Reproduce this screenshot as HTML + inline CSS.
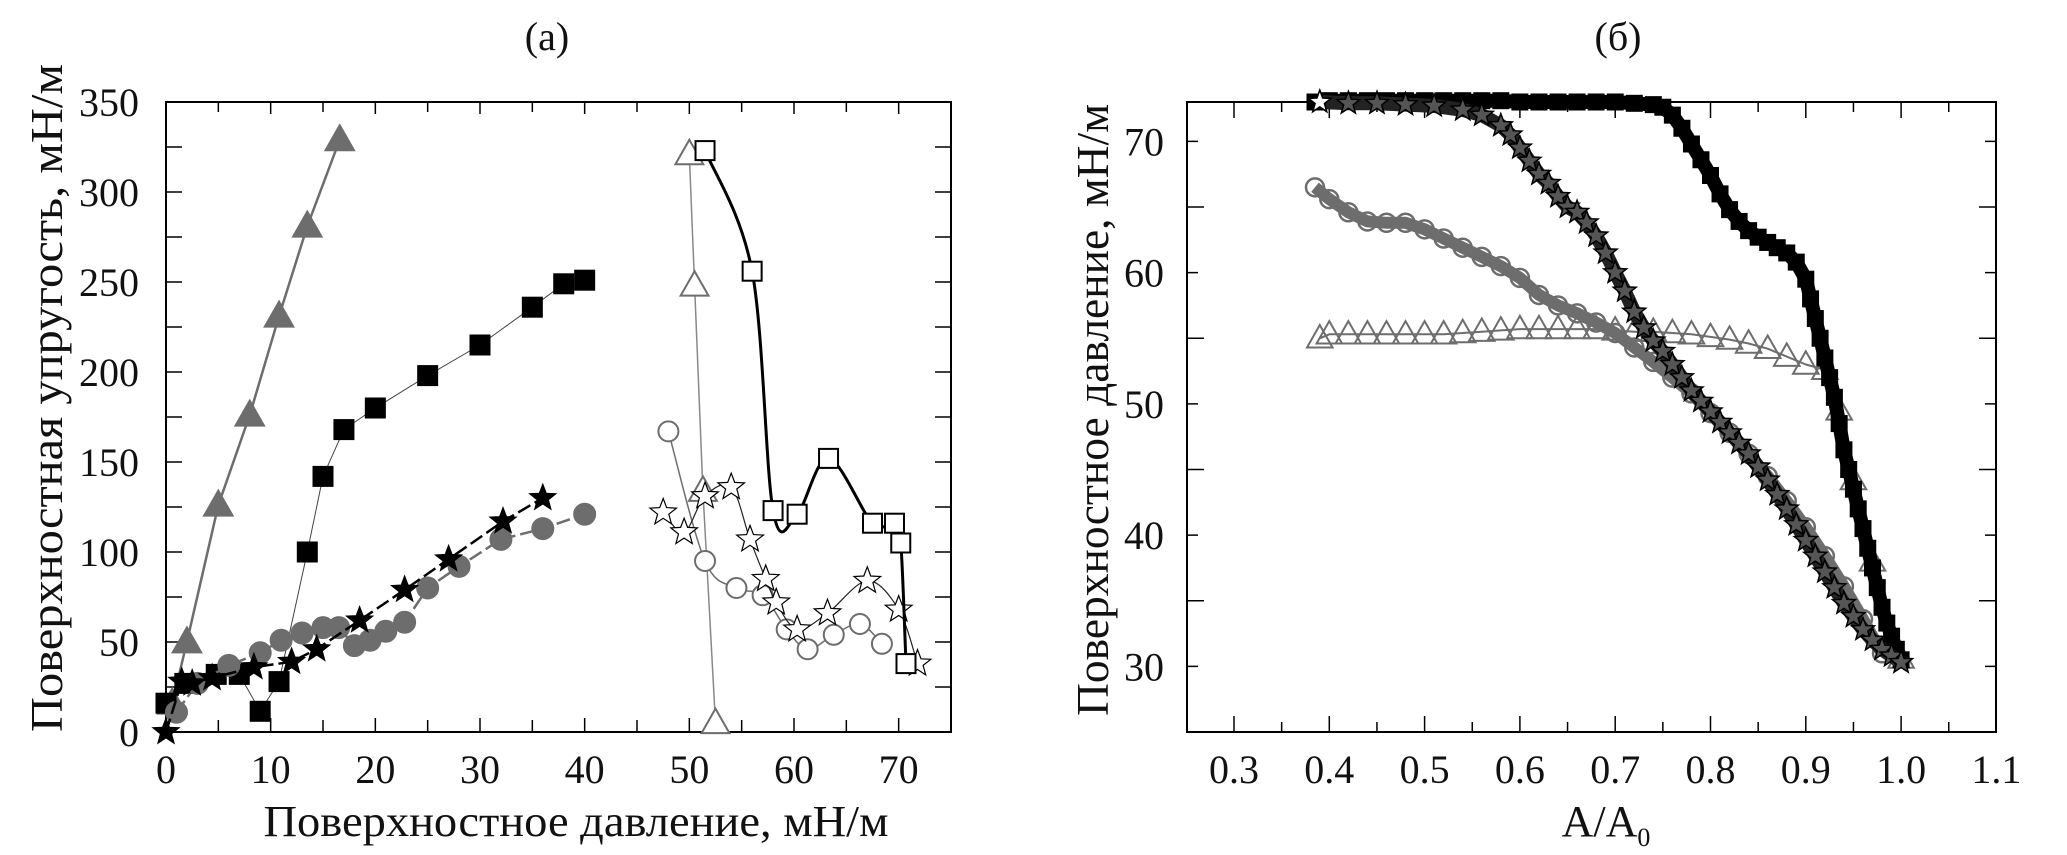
<!DOCTYPE html>
<html><head><meta charset="utf-8"><style>
html,body{margin:0;padding:0;background:#fff;}
svg{display:block;}
svg text{font-family:"Liberation Serif","Times New Roman","DejaVu Serif",serif;}
</style></head><body>
<svg id="fig" width="2067" height="855" viewBox="0 0 2067 855" xmlns="http://www.w3.org/2000/svg" font-family="Liberation Serif, serif">
<g id="pa"></g>
<g id="pb"></g>
</svg>
<script>
// ---------- Panel (a) data ----------
const aGrayTriX=[0.6,2,5,8,10.8,13.5,16.6];
const aGrayTriY=[16,50,126,176,231,281,329];
const aSqX=[0,1.8,4.8,7,9,10.8,13.5,15,17,20,25,30,35,38,40];
const aSqY=[16,27,32,32,11.5,28,100,142,168,180,198,215,236,249,251];
const aStarX=[0,1.5,2.5,4.4,8.4,12,14.4,18.5,22.8,27,32.2,36];
const aStarY=[0,28,27,30,36,39,46,62,79,96,117,130];
const aCircX=[1,3,6,9,11,13,15,16.5,18,19.5,21,22.8,25,28,32,36,40];
const aCircY=[11,27,37,44,51,55,58,58,48,51,56,61,80,92,107,113,121];
const aOTriX=[50,50.5,51.3,52.5];
const aOTriY=[321,248,134,5];
const aOSqX=[51.5,56,58,60.3,63.3,67.5,69.6,70.2,70.7];
const aOSqY=[323,256,123,121,152,116,116,105,38];
const aOStarX=[47.5,49.5,51.5,54,55.8,57.3,58.3,60.3,63.2,67,70,71.8];
const aOStarY=[122,111,131,136,107,85,72,57,66,84,68,38];
const aOCircX=[48,51.5,54.5,57,59.3,61.3,63.8,66.3,68.4];
const aOCircY=[167,95,80,76,57,46,54,60,49];
const aXTicks=[0,10,20,30,40,50,60,70];
const aYTicks=[0,50,100,150,200,250,300,350];

// ---------- Panel (b) data ----------
const bSqX=[0.385,0.40,0.42,0.44,0.46,0.48,0.50,0.52,0.54,0.56,0.58,0.60,0.62,0.64,0.66,0.68,0.70,0.72,0.74,0.75,0.76,0.77,0.78,0.79,0.80,0.81,0.82,0.83,0.84,0.85,0.86,0.87,0.88,0.89,0.90,0.905,0.91,0.915,0.92,0.925,0.93,0.935,0.94,0.945,0.95,0.955,0.96,0.965,0.97,0.975,0.98,0.985,0.99,0.995,1.0];
const bSqY=[73,73.1,73.1,73.1,73.1,73.1,73.1,73.1,73.1,73.1,73.1,73.0,73.0,73.0,73.0,73.0,73.0,72.9,72.8,72.6,72.0,71.0,69.8,68.6,67.4,66.0,64.8,63.9,63.2,62.7,62.3,61.9,61.5,60.8,59.5,58.0,56.5,55.0,53.5,52.0,50.5,48.5,46.5,45.0,43.5,42.0,40.5,39.0,37.5,36.0,34.5,33.3,32.3,31.3,30.5];
const bStarX=[0.39,0.42,0.45,0.48,0.51,0.54,0.56,0.58,0.59,0.60,0.61,0.62,0.63,0.64,0.65,0.66,0.67,0.68,0.69,0.70,0.71,0.72,0.73,0.74,0.75,0.76,0.77,0.78,0.79,0.80,0.81,0.82,0.83,0.84,0.85,0.86,0.87,0.88,0.89,0.90,0.91,0.92,0.93,0.94,0.95,0.96,0.97,0.98,0.99,1.0];
const bStarY=[73,72.9,72.9,72.8,72.7,72.4,72.0,71.2,70.5,69.5,68.5,67.5,66.8,65.8,65.0,64.6,63.8,62.8,61.5,60.0,58.6,57.0,55.8,54.8,54.0,53.0,52.0,51.0,50.2,49.4,48.6,47.8,47.0,46.2,45.2,44.2,43.1,42.0,40.8,39.6,38.4,37.2,36.0,34.8,33.8,32.8,32.0,31.3,30.8,30.3];
const bCircX=[0.385,0.40,0.42,0.44,0.46,0.48,0.50,0.52,0.54,0.56,0.58,0.60,0.62,0.64,0.66,0.68,0.70,0.72,0.74,0.76,0.78,0.80,0.82,0.84,0.86,0.88,0.90,0.92,0.94,0.96,0.98];
const bCircY=[66.5,65.6,64.6,63.9,63.8,63.8,63.3,62.6,61.9,61.2,60.5,59.6,58.3,57.5,56.9,56.2,55.4,54.3,53.2,52.0,50.8,49.3,47.8,46.2,44.5,42.6,40.6,38.4,36.1,33.6,31.0];
const bTriX=[0.39,0.40,0.42,0.44,0.46,0.48,0.50,0.52,0.54,0.56,0.58,0.60,0.62,0.64,0.66,0.68,0.70,0.72,0.74,0.76,0.78,0.80,0.82,0.84,0.86,0.88,0.90,0.92,0.935,0.95,0.97,0.99,1.0];
const bTriY=[55,55.3,55.3,55.3,55.3,55.3,55.3,55.3,55.4,55.5,55.6,55.7,55.7,55.7,55.7,55.7,55.6,55.5,55.5,55.4,55.3,55.1,54.9,54.6,54.2,53.6,53.0,52.6,49.5,44.2,38.0,31.8,30.6];
const bXTicks=[0.3,0.4,0.5,0.6,0.7,0.8,0.9,1.0,1.1];
const bXTickLabels=["0.3","0.4","0.5","0.6","0.7","0.8","0.9","1.0","1.1"];
const bYTicks=[30,40,50,60,70];

const NS="http://www.w3.org/2000/svg";
const GRAY="#6d6d6d";
function el(parent,tag,attrs){const e=document.createElementNS(NS,tag);for(const k in attrs)e.setAttribute(k,attrs[k]);parent.appendChild(e);return e;}
function linPath(xs,ys,sx,sy){return xs.map((x,i)=>(i?'L':'M')+sx(x).toFixed(1)+' '+sy(ys[i]).toFixed(1)).join(' ');}
function smoothPath(xs,ys,sx,sy){
  const p=xs.map((x,i)=>[sx(x),sy(ys[i])]);
  let d='M'+p[0][0]+' '+p[0][1];
  for(let i=0;i<p.length-1;i++){
    const p0=p[i-1]||p[i],p1=p[i],p2=p[i+1],p3=p[i+2]||p2;
    const c1=[p1[0]+(p2[0]-p0[0])/6,p1[1]+(p2[1]-p0[1])/6];
    const c2=[p2[0]-(p3[0]-p1[0])/6,p2[1]-(p3[1]-p1[1])/6];
    d+=` C${c1[0].toFixed(1)} ${c1[1].toFixed(1)} ${c2[0].toFixed(1)} ${c2[1].toFixed(1)} ${p2[0].toFixed(1)} ${p2[1].toFixed(1)}`;
  }
  return d;
}
function starPts(cx,cy,r){let s='';for(let i=0;i<10;i++){const a=-Math.PI/2+i*Math.PI/5;const rr=i%2?r*0.42:r;s+=(cx+rr*Math.cos(a)).toFixed(1)+','+(cy+rr*Math.sin(a)).toFixed(1)+' ';}return s;}
function marker(g,type,cx,cy,s,fill,stroke,sw){
  let m;
  if(type==='sq') m=el(g,'rect',{x:cx-s/2,y:cy-s/2,width:s,height:s,fill:fill,stroke:stroke,'stroke-width':sw});
  else if(type==='tri') m=el(g,'polygon',{points:`${cx},${cy-s*0.6} ${cx-s*0.58},${cy+s*0.42} ${cx+s*0.58},${cy+s*0.42}`,fill:fill,stroke:stroke,'stroke-width':sw});
  else if(type==='circ') m=el(g,'circle',{cx:cx,cy:cy,r:s/2,fill:fill,stroke:stroke,'stroke-width':sw});
  else m=el(g,'polygon',{points:starPts(cx,cy,s/2),fill:fill,stroke:stroke,'stroke-width':sw});
  
  
}
function series(g,name,xs,ys,sx,sy,opt){
  const sg=el(g,'g',{});
  
  
  const d=opt.smooth?smoothPath(xs,ys,sx,sy):linPath(xs,ys,sx,sy);
  const ln=el(sg,'path',{d:d,fill:'none',stroke:opt.lc,'stroke-width':opt.lw,'stroke-dasharray':opt.dash||'none','stroke-linejoin':'round'});
  
  
  xs.forEach((x,i)=>marker(sg,opt.m,sx(x),sy(ys[i]),opt.s,opt.fill,opt.stroke,opt.sw));
}
function frame(g,L,T,R,B){
  const f=el(g,'rect',{x:L,y:T,width:R-L,height:B-T,fill:'none',stroke:'#000','stroke-width':2});
  
  
}
function txt(g,name,x,y,s,size,anchor,extra){
  const t=el(g,'text',Object.assign({x:x,y:y,'font-size':size,'text-anchor':anchor||'middle',fill:'#111','font-family':'Liberation Serif, Times New Roman, serif'},extra||{}));
  t.textContent=s;
  
  
  return t;
}

// ---------- Panel (a) ----------
(function(){
  const g=document.getElementById('pa');
  const L=166,R=951,T=102,B=732;
  const sx=v=>L+(v-0)/75*(R-L), sy=v=>B-(v/350)*(B-T);
  frame(g,L,T,R,B);
  for(let v=0;v<=75;v+=5){const major=v%10===0;const x=sx(v);
    el(g,'line',{x1:x,x2:x,y1:B,y2:B-(major?14:12),stroke:'#000','stroke-width':1.5});
    el(g,'line',{x1:x,x2:x,y1:T,y2:T+(major?12:10),stroke:'#000','stroke-width':1.5});}
  for(let v=0;v<=350;v+=25){const y=sy(v);
    el(g,'line',{x1:L,x2:L+16,y1:y,y2:y,stroke:'#000','stroke-width':1.5});
    el(g,'line',{x1:R,x2:R-16,y1:y,y2:y,stroke:'#000','stroke-width':1.5});}
  aXTicks.forEach(v=>txt(g,'x-tick-label',sx(v),783,String(v),40));
  aYTicks.forEach(v=>txt(g,'y-tick-label',139,sy(v)+14,String(v),40,'end'));
  txt(g,'panel-title-a',547,50,'(a)',40);
  txt(g,'x-axis-title',576,836,'Поверхностное давление, мН/м',44,'middle',{textLength:625,lengthAdjust:'spacingAndGlyphs'});
  txt(g,'y-axis-title',0,0,'Поверхностная упругость, мН/м',46,'middle',{transform:'translate(62,398) rotate(-90)',textLength:668,lengthAdjust:'spacingAndGlyphs'});
  series(g,'gray-triangle-series',aGrayTriX,aGrayTriY,sx,sy,{lc:GRAY,lw:2.5,m:'tri',s:26,fill:GRAY,stroke:GRAY,sw:1});
  series(g,'black-square-series',aSqX,aSqY,sx,sy,{lc:'#444',lw:1,m:'sq',s:20,fill:'#000',stroke:'#000',sw:1});
  series(g,'gray-circle-series',aCircX,aCircY,sx,sy,{lc:GRAY,lw:2.5,dash:'14 5',m:'circ',s:22,fill:GRAY,stroke:GRAY,sw:1});
  series(g,'black-star-series',aStarX,aStarY,sx,sy,{lc:'#000',lw:2.5,dash:'14 5',m:'star',s:28,fill:'#000',stroke:'#000',sw:1});
  series(g,'open-triangle-series',aOTriX,aOTriY,sx,sy,{lc:'#888',lw:1.5,m:'tri',s:24,fill:'#fff',stroke:GRAY,sw:2});
  series(g,'open-circle-series',aOCircX,aOCircY,sx,sy,{smooth:true,lc:GRAY,lw:1.5,m:'circ',s:20,fill:'#fff',stroke:GRAY,sw:2});
  series(g,'open-star-series',aOStarX,aOStarY,sx,sy,{smooth:true,lc:'#222',lw:1.2,m:'star',s:28,fill:'#fff',stroke:'#000',sw:1.2});
  series(g,'open-square-series',aOSqX,aOSqY,sx,sy,{smooth:true,lc:'#000',lw:3,m:'sq',s:19,fill:'#fff',stroke:'#000',sw:2});
})();

// ---------- Panel (b) ----------
(function(){
  const g=document.getElementById('pb');
  const L=1187,R=1996,T=102,B=732;
  const sx=v=>1234+(v-0.3)/0.1*95.3, sy=v=>B-(v-25)/48*(B-T);
  frame(g,L,T,R,B);
  for(let k=0;k<=17;k++){const v=0.25+k*0.05;const x=sx(v);if(x<=L+1||x>=R-1)continue;
    const major=k%2===1;
    el(g,'line',{x1:x,x2:x,y1:B,y2:B-(major?16:10),stroke:'#000','stroke-width':1.5});
    el(g,'line',{x1:x,x2:x,y1:T,y2:T+(major?16:10),stroke:'#000','stroke-width':1.5});}
  for(let v=30;v<=70;v+=5){const y=sy(v);
    el(g,'line',{x1:L,x2:L+(v%10===0?11:17),y1:y,y2:y,stroke:'#000','stroke-width':1.5});
    el(g,'line',{x1:R,x2:R-(v%10===0?11:17),y1:y,y2:y,stroke:'#000','stroke-width':1.5});}
  bXTicks.forEach((v,i)=>txt(g,'x-tick-label',sx(v),783,bXTickLabels[i],40));
  bYTicks.forEach(v=>txt(g,'y-tick-label',1164,sy(v)+14,String(v),40,'end'));
  txt(g,'panel-title-b',1618,50,'(б)',40);
  const xt=txt(g,'x-axis-title',1606,836,'A/A',44,'middle');
  const sub=el(xt,'tspan',{'font-size':26,dy:10});sub.textContent='0';
  txt(g,'y-axis-title',0,0,'Поверхностное давление, мН/м',46,'middle',{transform:'translate(1108,410) rotate(-90)',textLength:612,lengthAdjust:'spacingAndGlyphs'});
  series(g,'gray-triangle-series',bTriX,bTriY,sx,sy,{lc:GRAY,lw:2,m:'tri',s:22,fill:'none',stroke:GRAY,sw:2});
  series(g,'black-square-series',bSqX,bSqY,sx,sy,{lc:'#000',lw:14,m:'sq',s:16,fill:'#000',stroke:'#000',sw:1});
  series(g,'gray-circle-series',bCircX,bCircY,sx,sy,{lc:GRAY,lw:12,m:'circ',s:18,fill:'none',stroke:GRAY,sw:2.5});
  series(g,'black-star-series',bStarX,bStarY,sx,sy,{lc:'#222',lw:14,m:'star',s:24,fill:'#555',stroke:'#000',sw:1.5});
  const st=el(g,'polygon',{points:starPts(sx(0.39),sy(73),11),fill:'#fff',stroke:'#000','stroke-width':1});
  
  
})();
</script>
</body></html>
